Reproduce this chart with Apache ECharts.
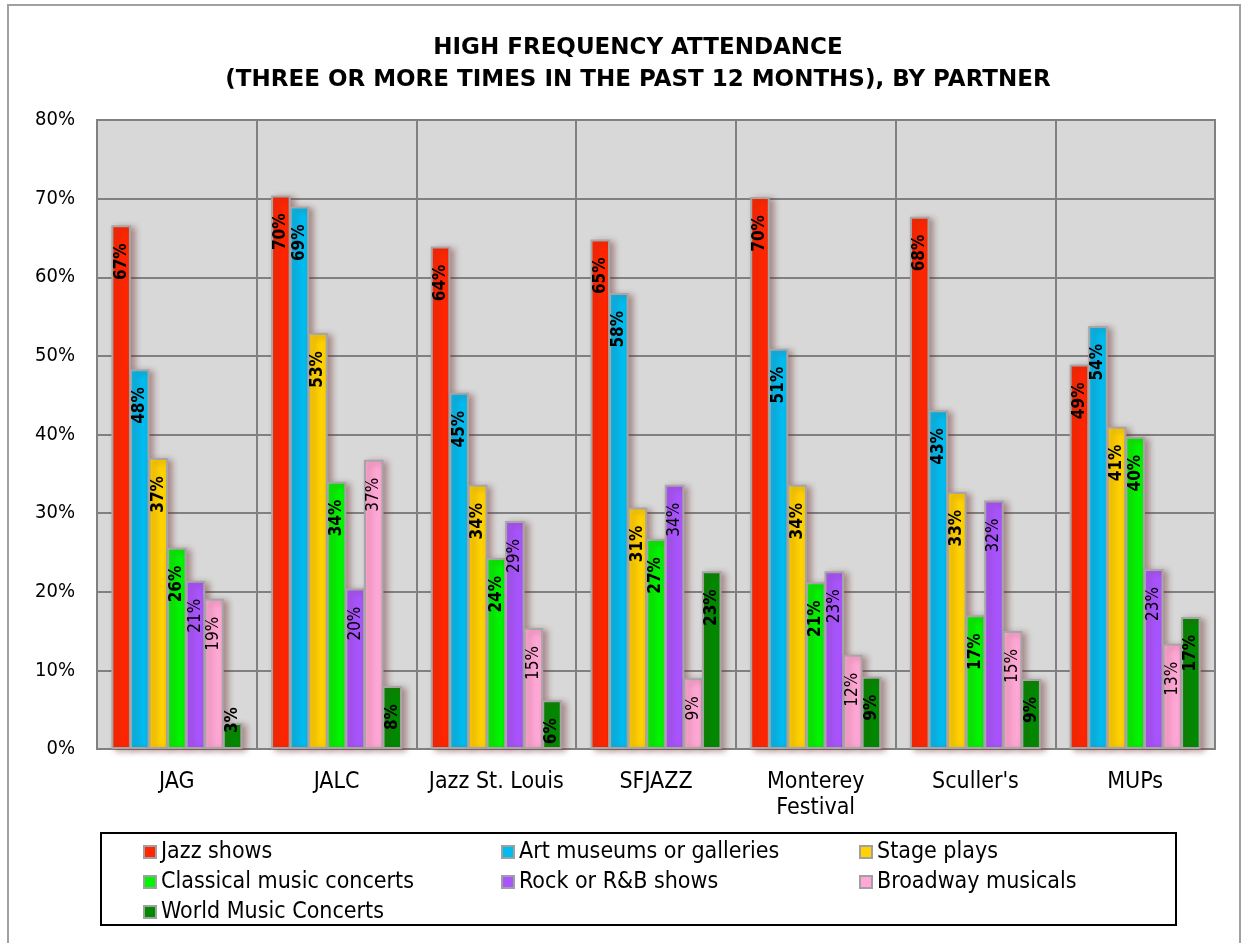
<!DOCTYPE html>
<html>
<head>
<meta charset="utf-8">
<script src="https://cdn.jsdelivr.net/npm/echarts@6/dist/echarts.min.js"></script>
<style>
  html, body { margin: 0; padding: 0; background: #fff; }
  #chart { width: 1245px; height: 943px; }
</style>
</head>
<body>
<div id="chart"></div>
<script>
// partners on the x axis
const partners = ['JAG', 'JALC', 'Jazz St. Louis', 'SFJAZZ', 'Monterey\nFestival', "Sculler's", 'MUPs'];

// share of respondents (%) per activity
const jazzShows = [66.6, 70.4, 63.9, 64.8, 70.2, 67.7, 48.9];
const artMuseums = [48.3, 69.0, 45.3, 58.0, 50.9, 43.1, 53.8];
const stagePlays = [37.0, 52.9, 33.6, 30.7, 33.6, 32.7, 41.0];
const classicalConcerts = [25.6, 34.0, 24.3, 26.7, 21.2, 17.0, 39.7];
const rockShows = [21.4, 20.4, 29.0, 33.6, 22.6, 31.6, 22.9];
const broadwayMusicals = [19.1, 36.8, 15.4, 9.0, 12.0, 15.0, 13.4];
const worldMusic = [3.3, 8.0, 6.2, 22.6, 9.2, 8.9, 16.8];

const yTicks = [0, 80, 10]; // min, max, step

const seriesDefs = [
  { name: 'Jazz shows', data: jazzShows, color: '#ff2600', bold: true },
  { name: 'Art museums or galleries', data: artMuseums, color: '#00bcf0', bold: true },
  { name: 'Stage plays', data: stagePlays, color: '#ffd200', bold: true },
  { name: 'Classical music concerts', data: classicalConcerts, color: '#00f500', bold: true },
  { name: 'Rock or R&B shows', data: rockShows, color: '#a855ff', bold: false },
  { name: 'Broadway musicals', data: broadwayMusicals, color: '#ffa8d6', bold: false },
  { name: 'World Music Concerts', data: worldMusic, color: '#008a00', bold: true }
];

const FONT = '"DejaVu Sans Condensed", "DejaVu Sans"';
const chart = echarts.init(document.getElementById('chart'));

const legendBase = {
  orient: 'vertical',
  icon: 'rect',
  padding: 0,
  itemWidth: 12,
  itemHeight: 12,
  itemGap: 0,
  textStyle: { fontFamily: FONT, fontSize: 23, lineHeight: 30, color: '#000' },
  itemStyle: { borderColor: '#a0a0a0', borderWidth: 2, shadowBlur: 0, shadowOffsetX: 0, shadowOffsetY: 0 },
  selectedMode: false
};

chart.setOption({
  animation: false,
  title: {
    text: 'HIGH FREQUENCY ATTENDANCE\n(THREE OR MORE TIMES IN THE PAST 12 MONTHS), BY PARTNER',
    left: 633,
    textAlign: 'center',
    top: 27,
    textStyle: { fontFamily: 'DejaVu Sans', fontSize: 23, fontWeight: 'bold', color: '#000', lineHeight: 32 }
  },
  legend: [
    Object.assign({ left: 143, top: 837, data: ['Jazz shows', 'Classical music concerts', 'World Music Concerts'] }, legendBase),
    Object.assign({ left: 501, top: 837, data: ['Art museums or galleries', 'Rock or R&B shows'] }, legendBase),
    Object.assign({ left: 859, top: 837, data: ['Stage plays', 'Broadway musicals'] }, legendBase)
  ],
  graphic: [
    { type: 'rect', silent: true, shape: { x: 8, y: 5, width: 1232, height: 960 },
      style: { fill: 'none', stroke: '#a0a0a0', lineWidth: 2 } },
    { type: 'rect', silent: true, shape: { x: 101, y: 833, width: 1075, height: 92 },
      style: { fill: 'none', stroke: '#000', lineWidth: 2 } }
  ],
  grid: {
    left: 97, right: 30, top: 120, bottom: 194,
    show: true, backgroundColor: '#d8d8d8', borderColor: '#808080', borderWidth: 2
  },
  xAxis: {
    type: 'category',
    data: partners,
    axisLine: { lineStyle: { color: '#808080', width: 2 } },
    axisTick: { show: false },
    splitLine: { show: true, lineStyle: { color: '#808080', width: 2 } },
    axisLabel: { fontFamily: FONT, fontSize: 23, color: '#000', margin: 20, lineHeight: 26, interval: 0 }
  },
  yAxis: {
    type: 'value',
    min: yTicks[0], max: yTicks[1], interval: yTicks[2],
    axisLine: { show: false },
    axisTick: { show: false },
    splitLine: { lineStyle: { color: '#808080', width: 2 } },
    axisLabel: { fontFamily: FONT, fontSize: 20, color: '#000', margin: 22, formatter: '{value}%' }
  },
  series: seriesDefs.map(s => ({
    name: s.name,
    type: 'bar',
    // short bars cannot hold their label, so it sits above them
    data: s.data.map(v => v < 5 ? { value: v, label: { position: 'top', distance: 16 } } : v),
    barCategoryGap: '18%',
    barGap: '-5%',
    itemStyle: {
      color: s.color,
      borderColor: '#a6a6a6',
      borderWidth: 2,
      shadowColor: 'rgba(110,40,40,0.45)',
      shadowBlur: 6,
      shadowOffsetX: 4,
      shadowOffsetY: 2
    },
    label: {
      show: true,
      position: 'insideTop',
      distance: 18,
      rotate: 90,
      align: 'right',
      verticalAlign: 'middle',
      fontFamily: FONT,
      fontSize: 17,
      fontWeight: s.bold ? 'bold' : 'normal',
      color: '#000',
      formatter: p => Math.round(p.value) + '%'
    }
  }))
});
</script>
</body>
</html>
